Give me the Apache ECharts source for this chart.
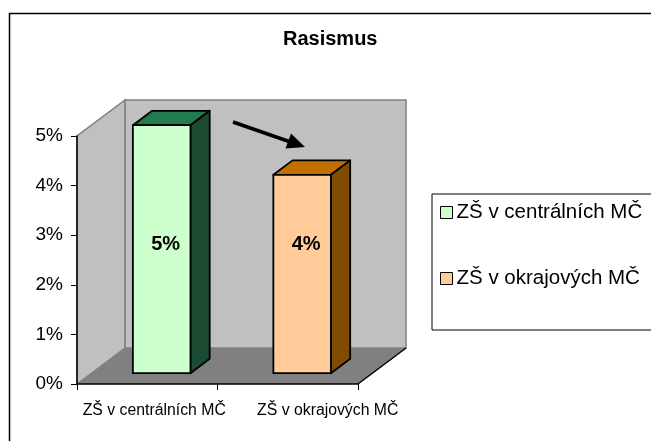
<!DOCTYPE html>
<html>
<head>
<meta charset="utf-8">
<script src="https://cdn.jsdelivr.net/npm/echarts@6/dist/echarts.min.js"></script>
<style>
  html, body { margin: 0; padding: 0; background: #fff; }
  #rasismusChart { width: 651px; height: 441px; }
</style>
</head>
<body>
<div id="rasismusChart"></div>
<script>
// data
const categories = ['ZŠ v centrálních MČ', 'ZŠ v okrajových MČ']
const values = [5.0, 4.0]
const yTicks = [0, 1, 2, 3, 4, 5]

const font = 'Arial, "Liberation Sans", sans-serif'
// front / top / side colours for each bar
const faceColors = ['#ccffcc', '#ffcc99']
const topColors = ['#237a4f', '#c07000']
const sideColors = ['#1c4b33', '#7f4c00']

// depth of the 3d box relative to one category width / one percent
const depthX = 0.342
const depthY = 0.726
const barFront = 0.3
const barBack = 0.7

function wallsRender (params, api) {
  const cs = params.coordSys
  const size = api.size([1, 1])
  const dx = size[0] * depthX
  const dy = -size[1] * depthY
  const x0 = cs.x
  const x1 = cs.x + cs.width
  const yt = cs.y
  const yb = cs.y + cs.height
  return {
    type: 'group',
    children: [
      { type: 'polygon', shape: { points: [[x0, yb], [x0, yt], [x0 + dx, yt + dy], [x0 + dx, yb + dy]] },
        style: { fill: '#c0c0c0', stroke: '#808080', lineWidth: 1.5 } },
      { type: 'rect', shape: { x: x0 + dx, y: yt + dy, width: cs.width, height: cs.height },
        style: { fill: '#c0c0c0', stroke: '#808080', lineWidth: 1.5 } },
      { type: 'polygon', shape: { points: [[x0, yb], [x1, yb], [x1 + dx, yb + dy], [x0 + dx, yb + dy]] },
        style: { fill: '#808080', stroke: null } },
      { type: 'line', shape: { x1: x1, y1: yb, x2: x1 + dx, y2: yb + dy },
        style: { stroke: '#000', lineWidth: 1.5 } }
    ]
  }
}

function barRender (params, api) {
  const i = api.value(0)
  const val = api.value(1)
  const size = api.size([1, 1])
  const dx = size[0] * depthX
  const dy = -size[1] * depthY
  const bw = size[0] * 0.41
  const base = api.coord([i, 0])
  const top = api.coord([i, val])
  const fx = base[0] - bw / 2 + dx * barFront
  const fyb = base[1] + dy * barFront
  const fyt = top[1] + dy * barFront
  const ddx = dx * (barBack - barFront)
  const ddy = dy * (barBack - barFront)
  const labelY = api.coord([i, 2.6])[1] + dy * barFront
  const stroke = { stroke: '#000', lineWidth: 1.8, lineJoin: 'round' }
  return {
    type: 'group',
    children: [
      { type: 'polygon', shape: { points: [[fx, fyt], [fx + bw, fyt], [fx + bw + ddx, fyt + ddy], [fx + ddx, fyt + ddy]] },
        style: Object.assign({ fill: topColors[i] }, stroke) },
      { type: 'polygon', shape: { points: [[fx + bw, fyt], [fx + bw + ddx, fyt + ddy], [fx + bw + ddx, fyb + ddy], [fx + bw, fyb]] },
        style: Object.assign({ fill: sideColors[i] }, stroke) },
      { type: 'rect', shape: { x: fx, y: fyt, width: bw, height: fyb - fyt },
        style: Object.assign({ fill: faceColors[i] }, stroke) },
      { type: 'text', x: fx + bw / 2 + 4, y: labelY,
        style: { text: Math.round(val) + '%', font: 'bold 20px ' + font, fill: '#000', align: 'center', verticalAlign: 'middle' } }
    ]
  }
}

const chart = echarts.init(document.getElementById('rasismusChart'))

const series = [{
  type: 'custom',
  name: 'walls',
  renderItem: wallsRender,
  data: [[0, 0]],
  silent: true,
  z: 1
}]
categories.forEach(function (name, i) {
  series.push({
    type: 'custom',
    name: name,
    renderItem: barRender,
    itemStyle: { color: faceColors[i] },
    data: [[i, values[i]]],
    z: 3
  })
})

const option = {
  animation: false,
  backgroundColor: '#fff',
  title: {
    text: 'Rasismus',
    left: 283,
    top: 29,
    padding: 0,
    textStyle: { fontFamily: font, fontSize: 20, fontWeight: 'bold', color: '#000' }
  },
  legend: {
    data: categories,
    orient: 'vertical',
    left: 432,
    top: 194,
    padding: [8, 40, 41, 8],
    itemGap: 45,
    itemWidth: 12,
    itemHeight: 12,
    icon: 'rect',
    borderColor: '#000',
    borderWidth: 1,
    itemStyle: { borderColor: '#000', borderWidth: 1 },
    textStyle: { fontFamily: font, fontSize: 20.5, color: '#000', padding: [0, 0, 0, -1] }
  },
  grid: {
    left: 77,
    right: 293,
    top: 136,
    bottom: 57
  },
  xAxis: {
    type: 'category',
    data: categories,
    z: 5,
    axisLine: { lineStyle: { color: '#000', width: 1.5 } },
    axisTick: { show: true, alignWithLabel: false, length: 6, lineStyle: { color: '#000' } },
    axisLabel: {
      interval: 0,
      margin: 19,
      formatter: function (v, i) { return '{c' + i + '|' + v + '}' },
      rich: {
        c0: { fontFamily: font, fontSize: 15.8, color: '#000', padding: [0, 0, 0, 14] },
        c1: { fontFamily: font, fontSize: 15.8, color: '#000', padding: [0, 0, 0, 80] }
      }
    },
    splitLine: { show: false }
  },
  yAxis: {
    type: 'value',
    min: yTicks[0],
    max: yTicks[yTicks.length - 1],
    interval: 1,
    z: 5,
    axisLine: { show: true, lineStyle: { color: '#000', width: 1.5 } },
    axisTick: { show: true, length: 6, lineStyle: { color: '#000' } },
    axisLabel: { formatter: '{value}%', fontFamily: font, fontSize: 19, color: '#000', margin: 14 },
    splitLine: { show: false }
  },
  graphic: [
    { type: 'rect', shape: { x: 9.5, y: 13.5, width: 700, height: 500 },
      style: { fill: null, stroke: '#000', lineWidth: 1.5 }, z: 10, silent: true },
    { type: 'line', shape: { x1: 233, y1: 122, x2: 292, y2: 142.5 },
      style: { stroke: '#000', lineWidth: 3.5 }, z: 10 },
    { type: 'polygon', shape: { points: [[305, 147], [285.5, 148.5], [291, 133.5]] },
      style: { fill: '#000' }, z: 10 }
  ],
  series: series
}

chart.clear()
chart.setOption(option)
</script>
</body>
</html>
